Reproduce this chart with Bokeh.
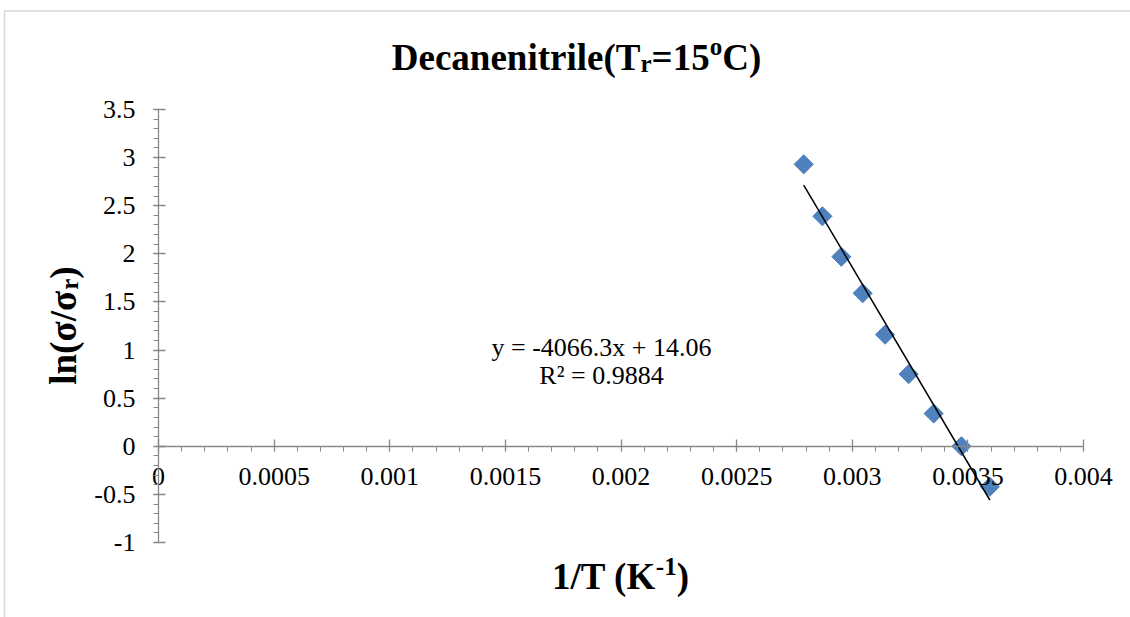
import numpy as np
from bokeh.plotting import figure
from bokeh.models import Range1d, FixedTicker, CustomJSTickFormatter, Label, PolyAnnotation
from bokeh.embed import file_html
from bokeh.resources import INLINE

# ---------------- data ----------------
inv_T = [0.002790, 0.002871, 0.002953, 0.003045, 0.003142, 0.003244, 0.003352, 0.003472, 0.003595]
ln_ratio = [2.93, 2.39, 1.97, 1.59, 1.16, 0.75, 0.34, 0.0, -0.42]
fit_slope = -4066.3
fit_intercept = 14.06
equation_text = "y = -4066.3x + 14.06"
r2_text = "R² = 0.9884"

x_ticks = [0, 0.0005, 0.001, 0.0015, 0.002, 0.0025, 0.003, 0.0035, 0.004]
x_tick_labels = ["0", "0.0005", "0.001", "0.0015", "0.002", "0.0025", "0.003", "0.0035", "0.004"]
y_ticks = [-1, -0.5, 0, 0.5, 1, 1.5, 2, 2.5, 3, 3.5]
y_tick_labels = ["-1", "-0.5", "0", "0.5", "1", "1.5", "2", "2.5", "3", "3.5"]

title_parts = ["Decanenitrile(T", "r", "=15", "o", "C)"]
x_label_parts = ["1/T (K", "-1", ")"]
y_label_parts = ["ln(σ/σ", "r", ")"]

# ---------------- layout ----------------
W, H = 1130, 617
# pixel box of the axes area (0..0.004 by -1..3.5) inside the canvas
FL, FR, FT, FB = 158, 1083, 109, 542
X0, X1 = 0.0, 0.004
Y0, Y1 = -1.0, 3.5
FONT = "Liberation Serif"
AXIS_GRAY = "#878787"


def dx(px):
    return X0 + (px - FL) / (FR - FL) * (X1 - X0)


def dy(py):
    return Y0 + (FB - py) / (FB - FT) * (Y1 - Y0)


p = figure(width=W, height=H, x_range=Range1d(dx(0), dx(W)), y_range=Range1d(dy(H), dy(0)),
           output_backend="svg", toolbar_location=None,
           min_border=0, min_border_left=0, min_border_right=0, min_border_top=0, min_border_bottom=0,
           background_fill_color="white", border_fill_color="white", outline_line_color=None)
p.grid.visible = False

fmt_code = """
let best = 0, d = Infinity;
for (let i = 0; i < vals.length; i++) {
  const e = Math.abs(vals[i] - tick);
  if (e < d) { d = e; best = i; }
}
return labs[best];
"""

x_minor = [round(v, 6) for v in np.arange(0, 0.0040001, 0.0001)]
y_minor = [round(v, 3) for v in np.arange(-1, 3.50001, 0.1)]

xa = p.xaxis[0]
ya = p.yaxis[0]
xa.ticker = FixedTicker(ticks=x_ticks, minor_ticks=x_minor)
ya.ticker = FixedTicker(ticks=y_ticks, minor_ticks=y_minor)
xa.formatter = CustomJSTickFormatter(args=dict(vals=x_ticks, labs=x_tick_labels), code=fmt_code)
ya.formatter = CustomJSTickFormatter(args=dict(vals=y_ticks, labs=y_tick_labels), code=fmt_code)
xa.fixed_location = 0
ya.fixed_location = 0
xa.bounds = (X0, X1)
ya.bounds = (Y0, Y1)

for ax in (xa, ya):
    ax.axis_line_color = AXIS_GRAY
    ax.axis_line_width = 1.3
    ax.major_tick_line_color = AXIS_GRAY
    ax.minor_tick_line_color = AXIS_GRAY
    ax.major_tick_line_width = 1.3
    ax.minor_tick_line_width = 1.0
    ax.major_tick_in = 7
    ax.major_tick_out = 5
    ax.minor_tick_in = 0
    ax.minor_tick_out = 5
    ax.major_label_text_font = FONT
    ax.major_label_text_font_size = "26px"
    ax.major_label_text_color = "black"
xa.major_label_standoff = 17
ya.major_label_standoff = 18

# data markers (Excel diamonds = rotated squares)
p.scatter(x=inv_T, y=ln_ratio, marker="square", size=13.5, angle=np.pi / 4,
          fill_color="#4F81BD", line_color="#4A7EBB", line_width=1)

# linear trendline over the data span
fit_x = [min(inv_T), max(inv_T)]
fit_y = [fit_slope * v + fit_intercept for v in fit_x]
p.line(fit_x, fit_y, line_color="black", line_width=1.5)

# equation labels
p.add_layout(Label(x=dx(601), y=dy(347), text=equation_text, text_font=FONT, text_font_size="26px",
                   text_align="center", text_baseline="alphabetic", text_color="black"))
p.add_layout(Label(x=dx(601), y=dy(375), text=r2_text, text_font=FONT, text_font_size="26px",
                   text_align="center", text_baseline="alphabetic", text_color="black"))

BOLD_W = {'D': 722, 'e': 444, 'c': 444, 'a': 500, 'n': 556, 'i': 278, 't': 333, 'r': 444, 'l': 278,
          '(': 333, ')': 333, 'T': 667, '=': 570, '1': 500, '5': 500, 'o': 500, 'C': 722, '/': 278,
          ' ': 250, 'K': 778, '-': 333, 'σ': 560}


def text_w(s, size):
    return sum(BOLD_W.get(c, 500) for c in s) * size / 1000.0


def bold_label(x, y, text, size, angle=0.0):
    return Label(x=x, y=y, text=text, text_font=FONT, text_font_style="bold",
                 text_font_size=f"{size}px", text_align="left", text_baseline="alphabetic",
                 text_color="black", angle=angle)


def hchain(parts, sizes, shifts, cx, base):
    total = sum(text_w(t, s) for t, s in zip(parts, sizes))
    cur = cx - total / 2
    for t, s, sh in zip(parts, sizes, shifts):
        p.add_layout(bold_label(dx(cur), dy(base - sh), t, s))
        cur += text_w(t, s)


def vchain(parts, sizes, shifts, cy, base_x):
    total = sum(text_w(t, s) for t, s in zip(parts, sizes))
    cur = cy + total / 2
    for t, s, sh in zip(parts, sizes, shifts):
        p.add_layout(bold_label(dx(base_x - sh), dy(cur), t, s, angle=np.pi / 2))
        cur -= text_w(t, s)


hchain(title_parts, [37, 25, 37, 25, 37], [0, -6, 0, 11, 0], 576, 57)
hchain(x_label_parts, [37, 25, 37], [0, 10, 0], 620, 576)
vchain(y_label_parts, [37, 25, 37], [0, -6, 0], 325, 63)

# chart-area border (top and left edges visible)
p.add_layout(PolyAnnotation(xs=[dx(4), dx(4), dx(1400), dx(1400)], ys=[dy(900), dy(10.5), dy(10.5), dy(900)],
                            fill_color=None, fill_alpha=0, line_color="#7f7f7f", line_width=1.5))

with open("out.html", "w") as f:
    f.write(file_html(p, INLINE))
